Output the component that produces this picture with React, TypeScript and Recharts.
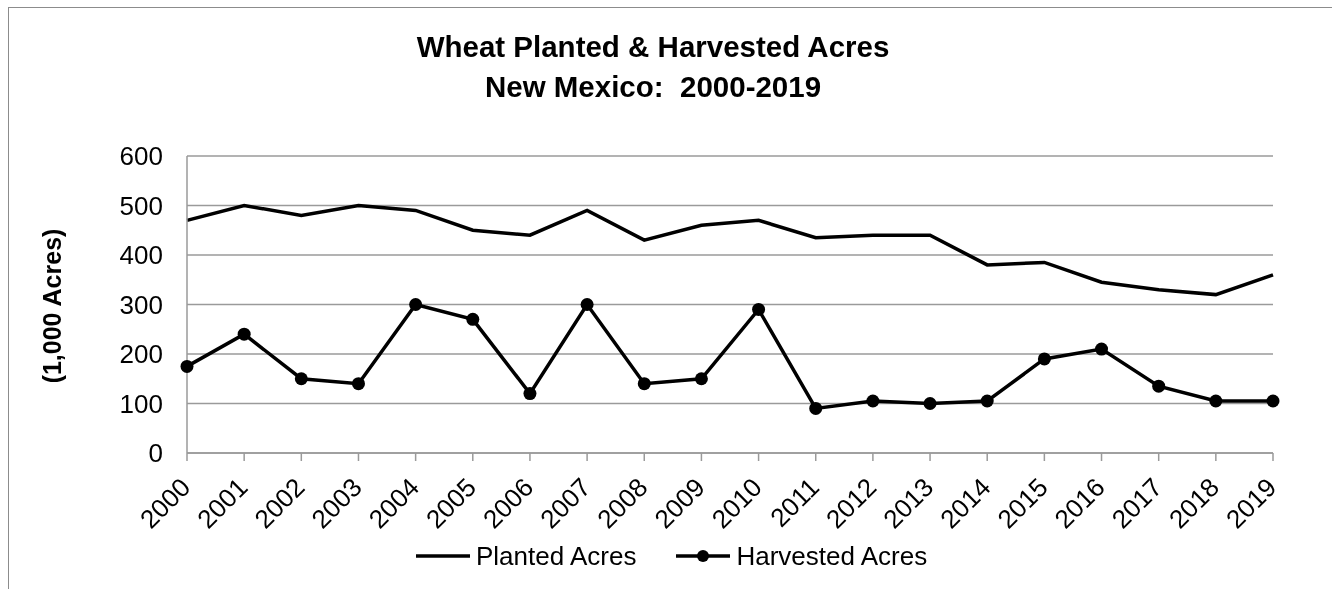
import React from "react";
import { LineChart, Line, XAxis, YAxis, CartesianGrid, Legend } from "recharts";

const years = [
  "2000", "2001", "2002", "2003", "2004", "2005", "2006", "2007", "2008", "2009",
  "2010", "2011", "2012", "2013", "2014", "2015", "2016", "2017", "2018", "2019",
];
const planted = [470, 500, 480, 500, 490, 450, 440, 490, 430, 460, 470, 435, 440, 440, 380, 385, 345, 330, 320, 360];
const harvested = [175, 240, 150, 140, 300, 270, 120, 300, 140, 150, 290, 90, 105, 100, 105, 190, 210, 135, 105, 105];
const yTicks = [0, 100, 200, 300, 400, 500, 600];
const seriesOrder = ["planted", "harvested"];

const data = years.map((year, i) => ({ year, planted: planted[i], harvested: harvested[i] }));

const FONT = '"Liberation Sans", Arial, sans-serif';
const GRID = "#9a9a9a";

function YearTick(props: any) {
  const { x, y, payload } = props;
  return (
    <g transform={`translate(${x + 5},${y + 26})`}>
      <text textAnchor="end" transform="rotate(-45)" fontSize={26} fontFamily={FONT} fill="#000">
        {payload.value}
      </text>
    </g>
  );
}

function LegendBox(props: any) {
  const items = [...(props.payload || [])].sort(
    (a: any, b: any) => seriesOrder.indexOf(a.dataKey) - seriesOrder.indexOf(b.dataKey)
  );
  return (
    <div style={{ display: "flex", alignItems: "center", fontFamily: FONT, fontSize: 26, color: "#000" }}>
      {items.map((it: any, i: number) => (
        <div key={it.value} style={{ display: "flex", alignItems: "center", marginLeft: i === 0 ? 0 : 40 }}>
          <svg width={54} height={20} style={{ marginRight: 6 }}>
            <line x1={0} y1={10} x2={54} y2={10} stroke="#000" strokeWidth={3.5} />
            {it.dataKey === "harvested" && <circle cx={27} cy={10} r={6} fill="#000" />}
          </svg>
          <span style={{ lineHeight: "26px" }}>{it.value}</span>
        </div>
      ))}
    </div>
  );
}

export default function App() {
  return (
    <div style={{ position: "relative", width: 1316, height: 573, fontFamily: FONT }}>
      <div
        style={{
          position: "fixed",
          left: 8,
          top: 7,
          width: 2000,
          height: 2000,
          border: "1px solid #8c8c8c",
          pointerEvents: "none",
        }}
      />
      <div
        style={{
          position: "absolute",
          left: 645,
          top: 19,
          transform: "translateX(-50%)",
          whiteSpace: "nowrap",
          textAlign: "center",
          fontWeight: "bold",
          fontSize: 29.5,
          lineHeight: "40px",
        }}
      >
        <div>Wheat Planted &amp; Harvested Acres</div>
        <div>New Mexico:&nbsp; 2000-2019</div>
      </div>
      <div
        style={{
          position: "absolute",
          left: 44,
          top: 298,
          transform: "translate(-50%,-50%) rotate(-90deg)",
          whiteSpace: "nowrap",
          fontWeight: "bold",
          fontSize: 25,
          lineHeight: "25px",
        }}
      >
        (1,000 Acres)
      </div>
      <LineChart width={1316} height={573} data={data} margin={{ top: 148, right: 51, bottom: 72, left: 0 }}>
        <CartesianGrid vertical={false} stroke={GRID} strokeWidth={1.5} />
        <XAxis
          dataKey="year"
          interval={0}
          height={30}
          stroke={GRID}
          strokeWidth={1.5}
          tickSize={8}
          tick={<YearTick />}
        />
        <YAxis
          width={179}
          domain={[0, 600]}
          ticks={yTicks}
          stroke={GRID}
          strokeWidth={1.5}
          tickLine={false}
          tickSize={0}
          tickMargin={24}
          tick={{ fontSize: 26, fontFamily: FONT, fill: "#000" }}
        />
        <Legend
          content={<LegendBox />}
          wrapperStyle={{ position: "absolute", left: 408, top: 535, width: "auto" }}
        />
        <Line
          dataKey="planted"
          name="Planted Acres"
          stroke="#000"
          strokeWidth={3.5}
          dot={false}
          isAnimationActive={false}
        />
        <Line
          dataKey="harvested"
          name="Harvested Acres"
          stroke="#000"
          strokeWidth={3.5}
          dot={{ r: 6.5, fill: "#000", stroke: "#000", strokeWidth: 0 }}
          isAnimationActive={false}
        />
      </LineChart>
    </div>
  );
}
